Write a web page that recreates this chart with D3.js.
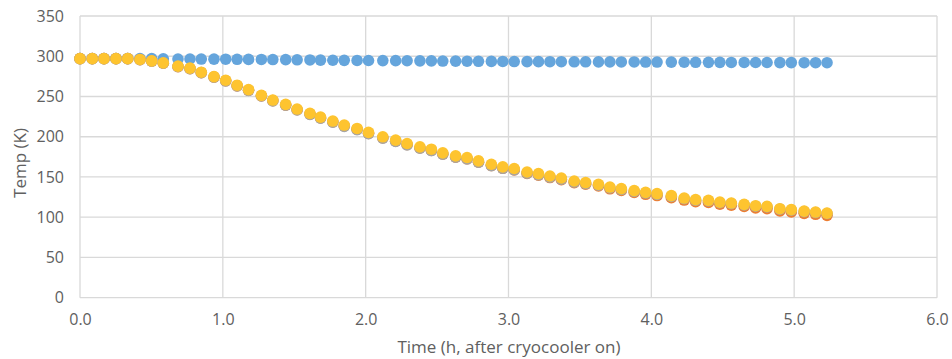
<!DOCTYPE html>
<html><head><meta charset="utf-8">
<script src="https://cdn.jsdelivr.net/npm/d3@7"></script>
<style>
html,body{margin:0;padding:0;background:#fff;}
svg{display:block;font-family:"Open Sans",sans-serif;}
</style></head>
<body>
<svg id="chart" width="952" height="359"></svg>
<script>
const times = [0,0.086,0.168,0.252,0.334,0.42,0.502,0.583,0.686,0.77,0.849,0.938,1.02,1.10,1.18,1.27,1.35,1.44,1.52,1.61,1.684,1.77,1.85,1.94,2.02,2.12,2.21,2.29,2.38,2.46,2.54,2.63,2.71,2.79,2.88,2.96,3.04,3.13,3.21,3.29,3.37,3.46,3.54,3.63,3.71,3.79,3.88,3.96,4.04,4.14,4.23,4.31,4.40,4.48,4.56,4.65,4.73,4.81,4.90,4.98,5.07,5.15,5.23];
const blueTemps = [297,297,297,297,297,297,297,296.8,296.6,296.6,296.5,296.4,296.3,296.2,296.1,296,295.9,295.8,295.6,295.4,295.2,295,294.9,294.8,294.7,294.6,294.5,294.4,294.3,294.2,294,293.9,293.8,293.7,293.6,293.5,293.4,293.3,293.3,293.2,293.2,293.1,293.1,293,293,292.9,292.9,292.8,292.8,292.7,292.6,292.5,292.4,292.4,292.3,292.3,292.2,292.2,292.1,292.1,292,292,292];
const orangeTemps = [297,297,297,297,297,295.8,294,291.3,287,284.5,279.5,274,269.5,263.2,257.7,250.7,244.8,239.3,233.5,228.1,223.4,218.5,213.4,209.2,204.2,198.7,194.5,190.3,186,183,178.5,174.7,172.6,168.4,164.2,160.8,158.8,154.4,152.3,149.3,146.7,143,141,138.8,135.3,133.2,130.7,128.5,126.9,124.3,121.3,119.2,118.4,116.2,114.9,113.3,111.5,110.7,107.8,106.6,104.8,103.6,102.3];
const grayTemps = [297,297,297,297,297,295.8,294,291.4,287.2,284.6,279.6,274,269.4,263.2,257.6,250.6,244.6,239.1,233.2,227.8,223,218,212.9,208.7,203.8,198.3,194.2,189.9,185.7,182.8,178.3,174.5,172.4,168.3,164.1,160.8,158.9,154.6,152.7,149.8,147.3,143.7,141.7,139.7,136.4,134.4,132,130,128.4,125.9,123,121,120.2,118,116.9,115.3,113.6,112.8,110,108.8,107,105.8,104.6];
const yellowTemps = [297,297,297,297,297,296,294.3,291.8,287.7,285.2,280.2,274.7,270.2,264,258.5,251.5,245.6,240.2,234.4,229,224.4,219.5,214.5,210.3,205.4,199.9,195.8,191.6,187.4,184.5,180,176.2,174.2,170,165.8,162.5,160.5,156.2,154.2,151.2,148.7,145,143,140.9,137.5,135.5,133,130.9,129.3,126.8,123.8,121.8,121,118.8,117.6,116,114.3,113.5,110.6,109.4,107.6,106.4,105.1];
const xTicks = [0,1,2,3,4,5,6];
const yTicks = [0,50,100,150,200,250,300,350];
const xTitle = "Time (h, after cryocooler on)";
const yTitle = "Temp (K)";

const series = [
  {name:"blue", values: blueTemps, color:"#65A5DC"},
  {name:"orange", values: orangeTemps, color:"#ED7D31"},
  {name:"gray", values: grayTemps, color:"#A5A5A5"},
  {name:"yellow", values: yellowTemps, color:"#FEC42F"}
];

const svg = d3.select("#chart");
const x = d3.scaleLinear().domain([0,6]).range([80,937]);
const y = d3.scaleLinear().domain([0,350]).range([297.7,16]);
const gridColor = "#d9d9d9";
const textColor = "#606060";

svg.append("g").selectAll("line").data(yTicks).join("line")
  .attr("x1", x(0)).attr("x2", x(6))
  .attr("y1", d=>y(d)).attr("y2", d=>y(d))
  .attr("stroke", gridColor).attr("stroke-width", 1.3);
svg.append("g").selectAll("line").data(xTicks).join("line")
  .attr("x1", d=>x(d)).attr("x2", d=>x(d))
  .attr("y1", y(0)).attr("y2", y(350))
  .attr("stroke", gridColor).attr("stroke-width", 1.3);

const xAxis = svg.append("g").attr("transform", `translate(0,${y(0)})`)
  .call(d3.axisBottom(x).tickValues(xTicks).tickFormat(d3.format(".1f")).tickSize(0).tickPadding(16));
const yAxis = svg.append("g").attr("transform", `translate(${x(0)},0)`)
  .call(d3.axisLeft(y).tickValues(yTicks).tickSize(0).tickPadding(16));
[xAxis, yAxis].forEach(g=>{
  g.select(".domain").remove();
  g.selectAll("text").attr("fill", textColor).style("font-size","16px").style("font-family","'Open Sans',sans-serif");
});

series.forEach(s=>{
  svg.append("g").selectAll("circle").data(times.map((t,i)=>[t, s.values[i]])).join("circle")
    .attr("cx", d=>x(d[0])).attr("cy", d=>y(d[1])).attr("r", 5.8)
    .attr("fill", s.color);
});

svg.append("text").attr("x", 509).attr("y", 353)
  .attr("text-anchor","middle").attr("fill", textColor)
  .style("font-size","17px").text(xTitle);
svg.append("text").attr("transform","translate(26,163) rotate(-90)")
  .attr("text-anchor","middle").attr("fill", textColor)
  .style("font-size","17px").text(yTitle);
</script>
</body></html>
